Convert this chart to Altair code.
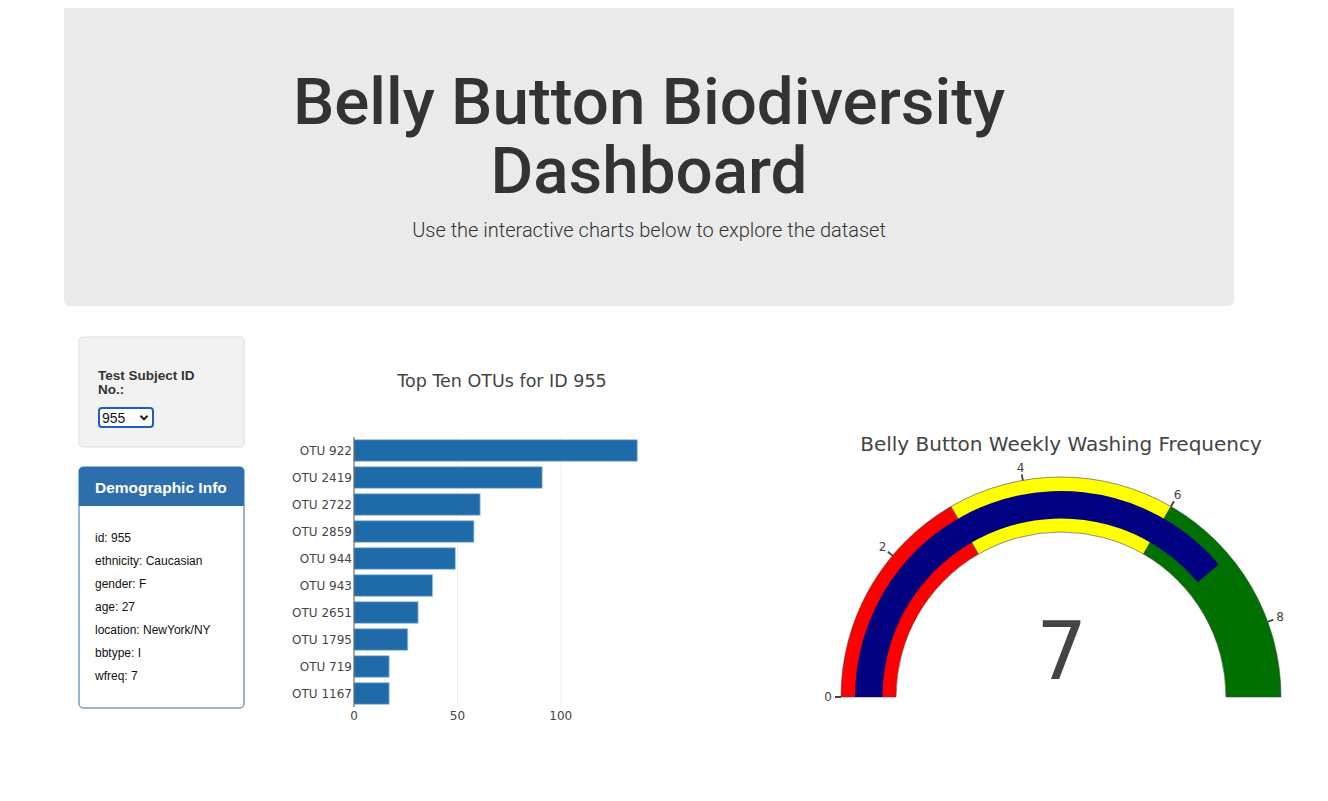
import pandas as pd
import altair as alt

# ---- data -------------------------------------------------------------
otu_labels = ["OTU 922", "OTU 2419", "OTU 2722", "OTU 2859", "OTU 944",
              "OTU 943", "OTU 2651", "OTU 1795", "OTU 719", "OTU 1167"]
sample_values = [137, 91, 61, 58, 49, 38, 31, 26, 17, 17]
x_ticks = [0, 50, 100]
x_grid = [50, 100]

wfreq = 7
step_starts = [0, 3, 6]
step_ends = [3, 6, 9]
step_colors = ["#ff0000", "#ffff00", "#007000"]
gauge_ticks = [0, 2, 4, 6, 8]

demo_keys = ["id", "ethnicity", "gender", "age", "location", "bbtype", "wfreq"]
demo_values = ["955", "Caucasian", "F", "27", "NewYork/NY", "I", "7"]

page_title = ["Belly Button Biodiversity", "Dashboard"]

W, H = 1312, 785
one = pd.DataFrame({"a": [0]})
PAGE_FONT = "Liberation Sans"
PLOT_FONT = "DejaVu Sans"


def box(x, y, x2, y2, **kw):
    return alt.Chart(one).mark_rect(**kw).encode(
        x=alt.value(x), x2=alt.value(x2), y=alt.value(y), y2=alt.value(y2))


def label(text, x, y, **kw):
    kw.setdefault("baseline", "alphabetic")
    kw.setdefault("align", "left")
    return alt.Chart(one).mark_text(text=text, **kw).encode(
        x=alt.value(x), y=alt.value(y))


# ---- page header --------------------------------------------------------
header = alt.layer(
    box(56, -8, 1226, 298, color="#eaeaea", cornerRadius=6),
    label(page_title, 641, 116, font="Roboto", fontSize=65.5, lineHeight=69,
          fontWeight=500, color="#333333", align="center"),
    label("Use the interactive charts below to explore the dataset", 641, 229,
          font="Roboto", fontSize=20, fontWeight=300, color="#333333",
          align="center"),
)

# ---- left side panels ---------------------------------------------------
chevron = alt.Chart(one).mark_point(
    shape="M-1,-0.5L0,0.5L1,-0.5", filled=False, size=50, strokeWidth=2,
    color="#222222", opacity=1
).encode(x=alt.value(136), y=alt.value(409.5))

side = [
    box(71, 329, 236, 439, color="#f2f2f2", stroke="#dddddd", cornerRadius=4),
    label("Test Subject ID", 90, 372, font=PAGE_FONT, fontSize=13.5,
          fontWeight="bold", color="#333333"),
    label("No.:", 90, 386, font=PAGE_FONT, fontSize=13.5,
          fontWeight="bold", color="#333333"),
    box(91, 400, 145, 419, color="#ffffff", stroke="#1a5dc8", strokeWidth=2,
        cornerRadius=3),
    label("955", 94, 414.5, font=PAGE_FONT, fontSize=14, color="#111111"),
    chevron,
    box(71, 459, 236, 700, color="#ffffff", stroke="#2f6eac", cornerRadius=4),
    box(71, 459, 236, 498, color="#2f6eac", cornerRadiusTopLeft=4,
        cornerRadiusTopRight=4),
    label("Demographic Info", 87, 485, font=PAGE_FONT, fontSize=15.5,
          fontWeight="bold", color="#ffffff"),
]
for i, (k, v) in enumerate(zip(demo_keys, demo_values)):
    side.append(label(f"{k}: {v}", 87, 534 + 23 * i, font=PAGE_FONT,
                      fontSize=12, color="#111111"))

# ---- bar chart: top ten OTUs ---------------------------------------------
bars_df = pd.DataFrame({"otu": otu_labels, "value": sample_values})
xs = alt.Scale(domain=[0, 140], range=[346, 635.5])
ys = alt.Scale(domain=otu_labels, range=[429, 699], paddingInner=0.2,
               paddingOuter=0.1)

grid = alt.Chart(pd.DataFrame({"tick": x_grid})).mark_rule(
    color="#eeeeee", strokeWidth=1
).encode(x=alt.X("tick:Q", scale=xs, axis=None),
         y=alt.value(429), y2=alt.value(699))

bars = alt.Chart(bars_df).mark_bar(
    color="#1f6aa8", stroke="#9dbfe0", strokeWidth=0.8
).encode(
    x=alt.X("value:Q", scale=xs, axis=None),
    y=alt.Y("otu:N", scale=ys, axis=None),
)

zero_line = alt.Chart(pd.DataFrame({"tick": [0]})).mark_rule(
    color="#555555", strokeWidth=1
).encode(x=alt.X("tick:Q", scale=xs, axis=None),
         y=alt.value(429), y2=alt.value(699))

otu_text = alt.Chart(bars_df).mark_text(
    align="right", baseline="middle", font=PLOT_FONT, fontSize=12,
    color="#444444"
).encode(y=alt.Y("otu:N", scale=ys, axis=None), x=alt.value(344),
         text="otu:N")

tick_text = alt.Chart(pd.DataFrame({"tick": x_ticks})).mark_text(
    align="center", baseline="alphabetic", font=PLOT_FONT, fontSize=12,
    color="#444444"
).encode(x=alt.X("tick:Q", scale=xs, axis=None), y=alt.value(712),
         text="tick:Q")

bar_title = label("Top Ten OTUs for ID 955", 494, 379, font=PLOT_FONT,
                  fontSize=17.5, color="#444444", align="center")

bar_chart = alt.layer(grid, bars, zero_line, otu_text, tick_text, bar_title)

# ---- gauge: weekly washing frequency -------------------------------------
cx, cy = 1053, 689
ts = alt.Scale(domain=[0, 9], range=[4.71238898, 7.85398163])

steps_df = pd.DataFrame({"start": step_starts, "end": step_ends,
                         "color": step_colors})
steps = alt.Chart(steps_df).mark_arc(
    radius=220, radius2=165, stroke="#444444", strokeWidth=0.6
).encode(
    theta=alt.Theta("start:Q", scale=ts, stack=False),
    theta2="end:Q",
    color=alt.Color("color:N", scale=None),
    x=alt.value(cx), y=alt.value(cy),
)

needle = alt.Chart(pd.DataFrame({"start": [0], "end": [wfreq]})).mark_arc(
    radius=206, radius2=178.5, color="#000080"
).encode(
    theta=alt.Theta("start:Q", scale=ts, stack=False),
    theta2="end:Q",
    x=alt.value(cx), y=alt.value(cy),
)

ticks_df = pd.DataFrame({"tick": gauge_ticks})
tick_marks = alt.Chart(ticks_df).transform_calculate(
    lo="datum.tick - 0.012", hi="datum.tick + 0.012"
).mark_arc(radius=226, radius2=220, color="#444444").encode(
    theta=alt.Theta("lo:Q", scale=ts, stack=False),
    theta2="hi:Q",
    x=alt.value(cx), y=alt.value(cy),
)

tick_labels = alt.Chart(ticks_df).mark_text(
    radius=233, align="center", baseline="middle", font=PLOT_FONT,
    fontSize=12, color="#444444"
).encode(
    theta=alt.Theta("tick:Q", scale=ts, stack=False),
    text="tick:Q",
    x=alt.value(cx), y=alt.value(cy),
)

gauge_title = label("Belly Button Weekly Washing Frequency", cx, 443,
                    font=PLOT_FONT, fontSize=20, color="#444444",
                    align="center")
gauge_value = label(str(wfreq), cx + 0.7, 671, font=PLOT_FONT, fontSize=80,
                    color="#444444", align="center")

gauge = alt.layer(steps, needle, tick_marks, tick_labels, gauge_title,
                  gauge_value)

chart = alt.layer(header, *side, bar_chart, gauge).properties(
    width=W, height=H, padding=0, autosize="none", background="#ffffff"
).configure_view(stroke=None)

chart.save("out.html", embed_options={"renderer": "svg", "actions": False})
